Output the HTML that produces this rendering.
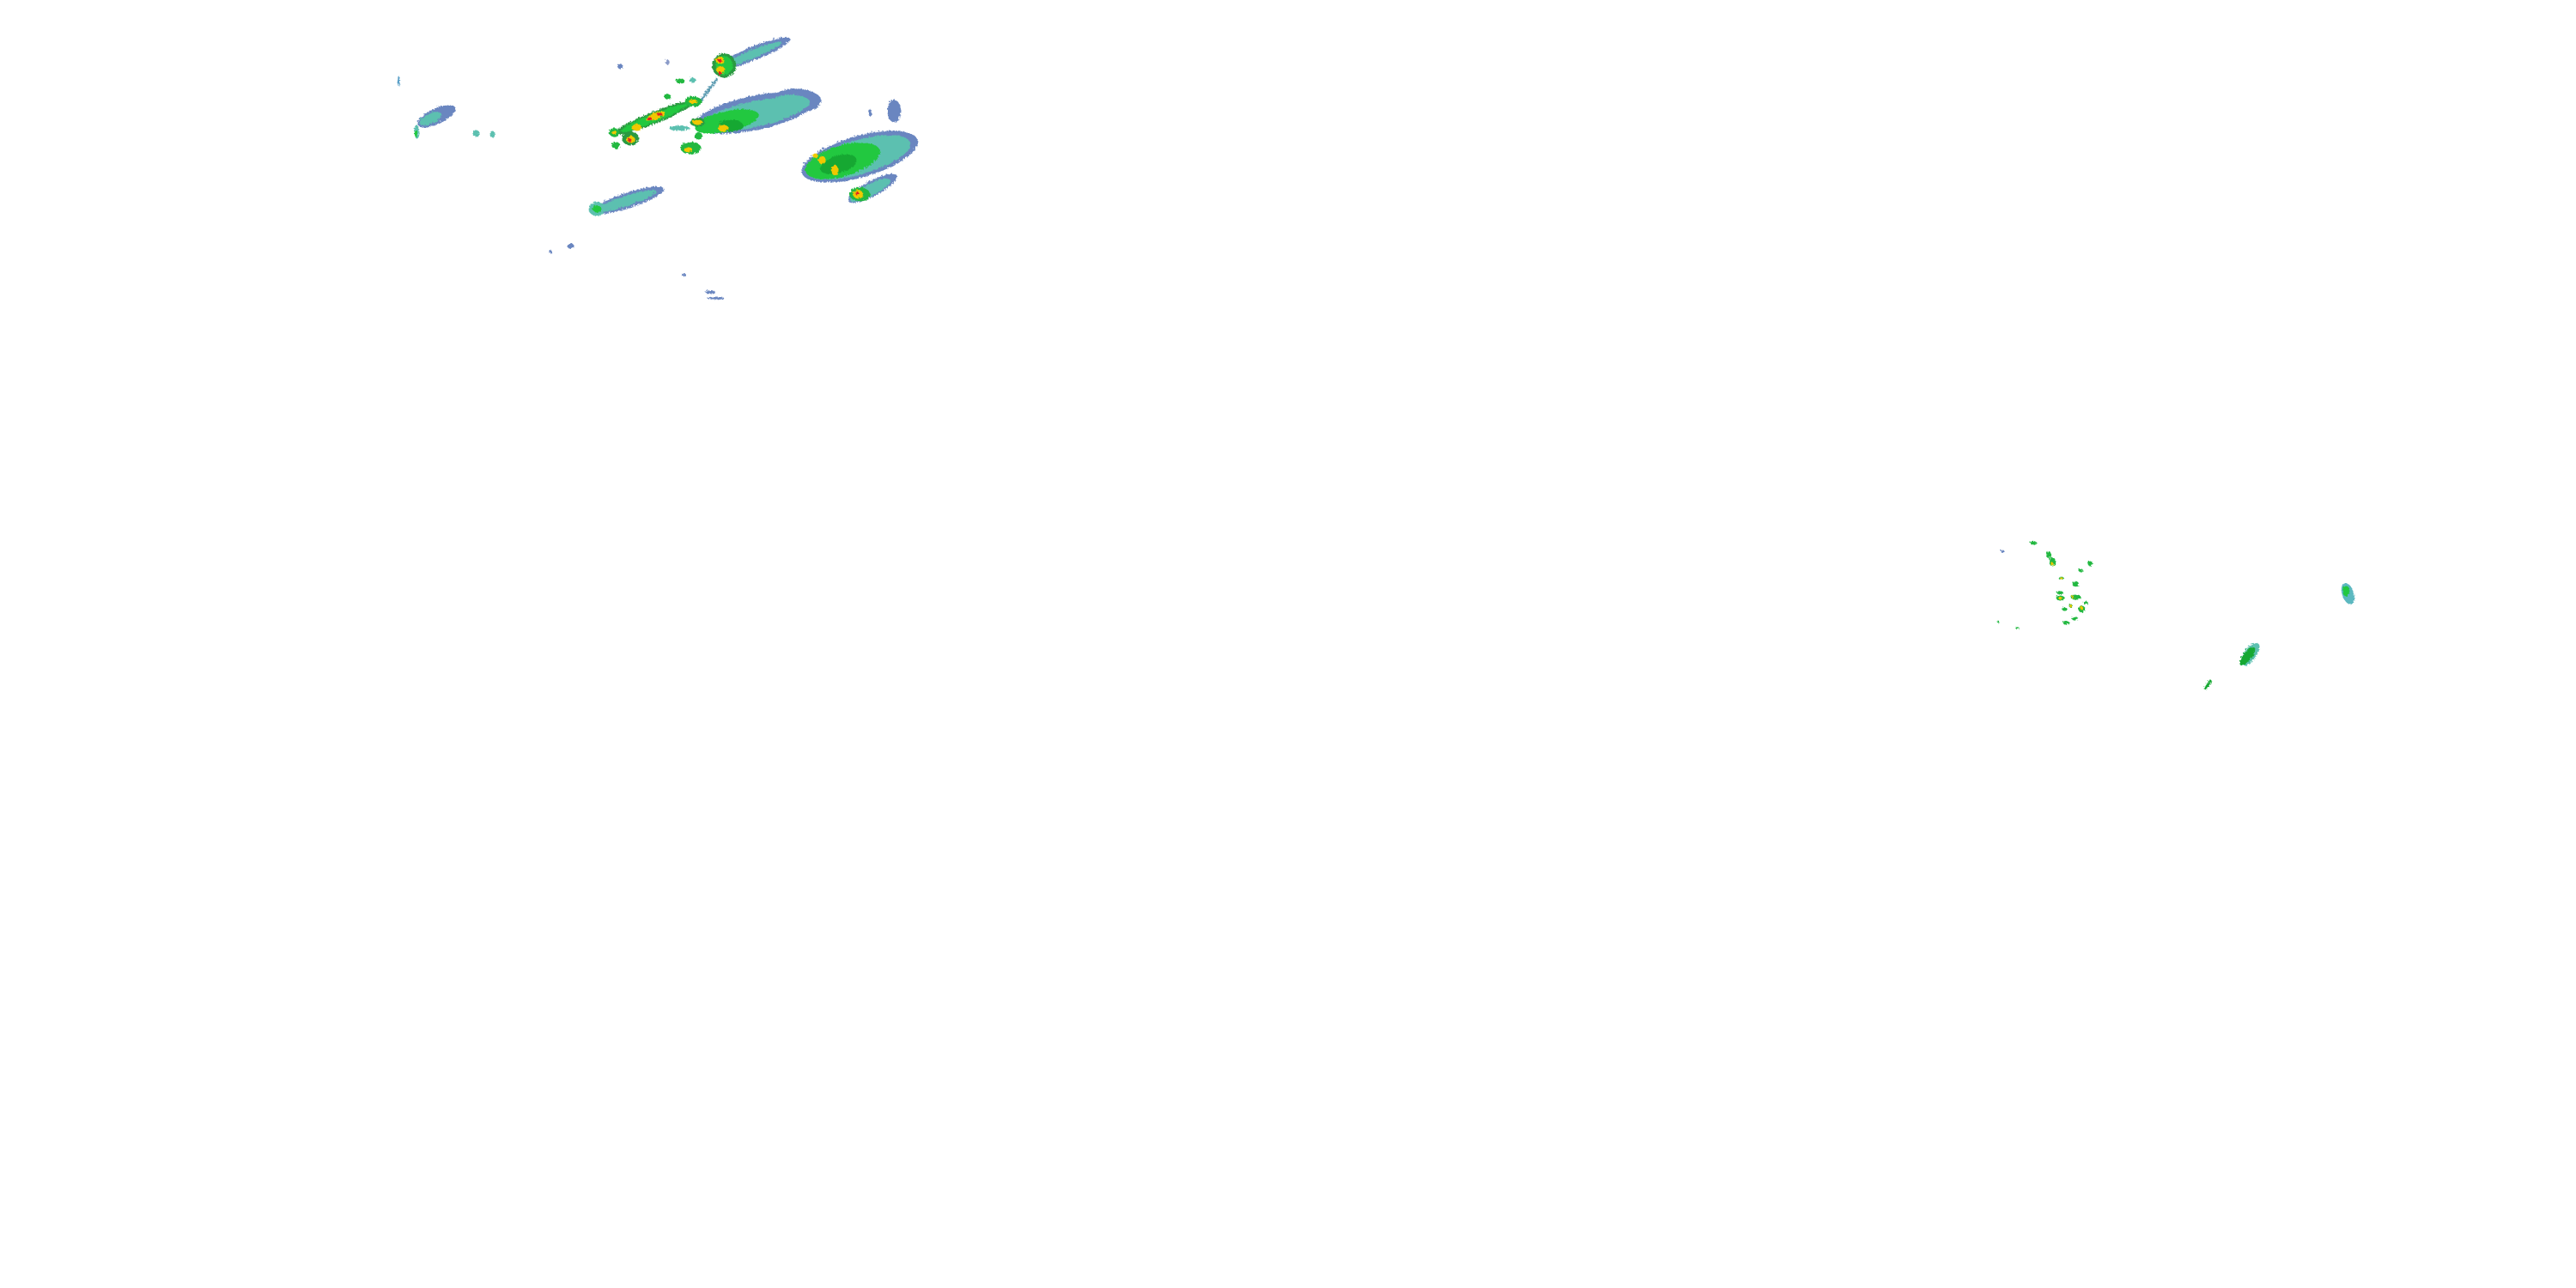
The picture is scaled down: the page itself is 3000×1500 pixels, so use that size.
<!DOCTYPE html>
<html><head><meta charset="utf-8"><style>html,body{margin:0;padding:0;background:#fff}svg{display:block}</style></head>
<body>
<svg width="3000" height="1500" viewBox="0 0 3000 1500" xmlns="http://www.w3.org/2000/svg">
<defs><filter id="r" x="-10%" y="-10%" width="120%" height="120%"><feTurbulence baseFrequency="0.35" numOctaves="1" seed="3"/><feDisplacementMap in="SourceGraphic" scale="4"/></filter></defs>
<g filter="url(#r)">
<!-- NE band -->
<ellipse cx="876" cy="61" rx="46" ry="8" transform="rotate(-22 876 61)" fill="#6a86c0"/>
<ellipse cx="872" cy="63" rx="40" ry="5" transform="rotate(-22 872 63)" fill="#5cc0b0"/>
<ellipse cx="842" cy="75" rx="14" ry="14" fill="#2a9a40"/>
<ellipse cx="842" cy="75" rx="10" ry="11" fill="#20c840"/>
<ellipse cx="837" cy="69" rx="5" ry="4" fill="#f0c800"/>
<ellipse cx="837" cy="69" rx="2.5" ry="2" fill="#e02020"/>
<ellipse cx="838" cy="80" rx="5" ry="4" fill="#f0c800"/>
<ellipse cx="837" cy="84" rx="2" ry="2" fill="#e02020"/>
<line x1="834" y1="90" x2="815" y2="116" stroke="#5a9ab0" stroke-width="3"/>
<!-- line of cells -->
<ellipse cx="760" cy="136" rx="50" ry="7" transform="rotate(-22 760 136)" fill="#2a9a40"/>
<ellipse cx="760" cy="136" rx="42" ry="5" transform="rotate(-22 760 136)" fill="#20c840"/>
<ellipse cx="762" cy="134" rx="12" ry="4" transform="rotate(-22 762 134)" fill="#f0c800"/>
<ellipse cx="767" cy="132" rx="3" ry="2" fill="#e02020"/>
<ellipse cx="755" cy="137" rx="3" ry="2" fill="#e02020"/>
<ellipse cx="740" cy="147" rx="6" ry="4" fill="#f0c800"/>
<ellipse cx="806" cy="117" rx="10" ry="6" fill="#20b840"/>
<ellipse cx="806" cy="117" rx="5" ry="2.5" fill="#f0c800"/>
<ellipse cx="733" cy="160" rx="10" ry="8" fill="#2a9a40"/>
<ellipse cx="733" cy="161" rx="5" ry="4" fill="#f0c800"/>
<ellipse cx="732" cy="162" rx="2" ry="2" fill="#e02020"/>
<ellipse cx="714" cy="153" rx="6" ry="5" fill="#20b840"/>
<ellipse cx="714" cy="153" rx="3" ry="2" fill="#f0c800"/>
<ellipse cx="716" cy="168" rx="5" ry="4" fill="#20b840"/>
<ellipse cx="791" cy="93" rx="5" ry="3" fill="#20b840"/>
<ellipse cx="805" cy="92" rx="4" ry="3" fill="#5cc0b0"/>
<ellipse cx="776" cy="111" rx="4" ry="3" fill="#20b840"/>
<ellipse cx="721" cy="76" rx="3" ry="3" fill="#6a86c0"/>
<ellipse cx="776" cy="71" rx="2" ry="3" fill="#8a9ac8"/>
<!-- mid big blob -->
<ellipse cx="878" cy="130" rx="72" ry="20" transform="rotate(-12 878 130)" fill="#6a86c0"/>
<ellipse cx="925" cy="116" rx="30" ry="14" fill="#6a86c0"/>
<ellipse cx="876" cy="132" rx="64" ry="15" transform="rotate(-12 876 132)" fill="#5cc0b0"/>
<ellipse cx="920" cy="118" rx="22" ry="9" fill="#5cc0b0"/>
<ellipse cx="845" cy="140" rx="38" ry="12" transform="rotate(-12 845 140)" fill="#20c840"/>
<ellipse cx="850" cy="145" rx="14" ry="7" fill="#14a830"/>
<ellipse cx="811" cy="141" rx="9" ry="5" fill="#2a9a40"/>
<ellipse cx="811" cy="141" rx="6" ry="3" fill="#f0c800"/>
<ellipse cx="841" cy="148" rx="6" ry="4" fill="#f0c800"/>
<ellipse cx="790" cy="148" rx="12" ry="3" fill="#5cc0b0"/>
<ellipse cx="803" cy="171" rx="12" ry="7" fill="#20b840"/>
<ellipse cx="800" cy="173" rx="5" ry="3" fill="#f0c800"/>
<ellipse cx="812" cy="157" rx="5" ry="4" fill="#20b840"/>
<!-- right big blob -->
<ellipse cx="1000" cy="181" rx="70" ry="24" transform="rotate(-16 1000 181)" fill="#6a86c0"/>
<ellipse cx="998" cy="182" rx="63" ry="20" transform="rotate(-16 998 182)" fill="#5cc0b0"/>
<ellipse cx="980" cy="186" rx="45" ry="18" transform="rotate(-16 980 186)" fill="#20c840"/>
<ellipse cx="975" cy="190" rx="22" ry="10" transform="rotate(-16 975 190)" fill="#14a830"/>
<ellipse cx="956" cy="185" rx="4" ry="5" fill="#f0c800"/>
<ellipse cx="971" cy="197" rx="4" ry="6" fill="#f0c800"/>
<ellipse cx="948" cy="180" rx="3" ry="3" fill="#f0c800"/>
<ellipse cx="1040" cy="128" rx="8" ry="13" fill="#6a86c0"/>
<ellipse cx="1012" cy="130" rx="2" ry="4" fill="#6a86c0"/>
<!-- small blob below right -->
<ellipse cx="1015" cy="218" rx="32" ry="9" transform="rotate(-28 1015 218)" fill="#6a86c0"/>
<ellipse cx="1012" cy="220" rx="26" ry="7" transform="rotate(-28 1012 220)" fill="#5cc0b0"/>
<ellipse cx="1000" cy="225" rx="12" ry="8" fill="#20b840"/>
<ellipse cx="998" cy="225" rx="6" ry="5" fill="#f0c800"/>
<ellipse cx="997" cy="224" rx="2" ry="2" fill="#e02020"/>
<!-- left blob -->
<ellipse cx="507" cy="134" rx="24" ry="9" transform="rotate(-25 507 134)" fill="#6a86c0"/>
<ellipse cx="500" cy="137" rx="14" ry="6" transform="rotate(-25 500 137)" fill="#5cc0b0"/>
<ellipse cx="484" cy="152" rx="3" ry="8" fill="#5cc0b0"/>
<ellipse cx="483" cy="154" rx="2" ry="4" fill="#20c840"/>
<ellipse cx="553" cy="154" rx="4" ry="4" fill="#5cc0b0"/>
<ellipse cx="572" cy="155" rx="3" ry="4" fill="#5cc0b0"/>
<ellipse cx="463" cy="93" rx="1.5" ry="6" fill="#5aa0c8"/>
<!-- lower band -->
<ellipse cx="730" cy="232" rx="44" ry="9" transform="rotate(-18 730 232)" fill="#6a86c0"/>
<ellipse cx="727" cy="233" rx="38" ry="6" transform="rotate(-18 727 233)" fill="#5cc0b0"/>
<ellipse cx="694" cy="242" rx="10" ry="8" fill="#5cc0b0"/>
<ellipse cx="694" cy="242" rx="5" ry="4" fill="#20c840"/>
<ellipse cx="663" cy="285" rx="4" ry="3" fill="#6a86c0"/>
<ellipse cx="826" cy="339" rx="6" ry="2" fill="#6a86c0"/>
<ellipse cx="832" cy="346" rx="10" ry="1.5" fill="#6a86c0"/>
<ellipse cx="795" cy="319" rx="3" ry="1.5" fill="#6a86c0"/>
<ellipse cx="640" cy="292" rx="2" ry="2" fill="#6a86c0"/>
<!-- right cluster -->
<g fill="#20b840">
<ellipse cx="2367" cy="631" rx="4" ry="2"/>
<ellipse cx="2385" cy="645" rx="3" ry="4"/>
<ellipse cx="2389" cy="653" rx="4" ry="5"/>
<ellipse cx="2433" cy="655" rx="3" ry="3"/>
<ellipse cx="2422" cy="663" rx="3" ry="2"/>
<ellipse cx="2399" cy="672" rx="3" ry="2"/>
<ellipse cx="2416" cy="679" rx="4" ry="3"/>
<ellipse cx="2398" cy="689" rx="4" ry="2"/>
<ellipse cx="2398" cy="695" rx="5" ry="3"/>
<ellipse cx="2416" cy="694" rx="6" ry="3"/>
<ellipse cx="2428" cy="701" rx="3" ry="2"/>
<ellipse cx="2410" cy="704" rx="2" ry="2"/>
<ellipse cx="2403" cy="708" rx="3" ry="2"/>
<ellipse cx="2423" cy="708" rx="4" ry="4"/>
<ellipse cx="2415" cy="719" rx="4" ry="2"/>
<ellipse cx="2405" cy="724" rx="4" ry="2"/>
<ellipse cx="2348" cy="730" rx="2" ry="1.5"/>
<ellipse cx="2326" cy="723" rx="1" ry="1.5"/>
</g>
<g fill="#f0c800">
<ellipse cx="2389" cy="656" rx="2" ry="1.5"/>
<ellipse cx="2399" cy="672" rx="1.5" ry="1.5"/>
<ellipse cx="2398" cy="695" rx="2.5" ry="1.5"/>
<ellipse cx="2413" cy="694" rx="2" ry="1.5"/>
<ellipse cx="2410" cy="704" rx="1.5" ry="1.5"/>
<ellipse cx="2423" cy="707" rx="2" ry="1.5"/>
</g>
<ellipse cx="2331" cy="641" rx="2" ry="1.5" fill="#6a86c0"/>
<ellipse cx="2733" cy="690" rx="7" ry="13" transform="rotate(-20 2733 690)" fill="#5cb8c0"/>
<ellipse cx="2731" cy="687" rx="4" ry="6" fill="#20c840"/>
<ellipse cx="2619" cy="761" rx="7" ry="16" transform="rotate(38 2619 761)" fill="#5cc0b0"/>
<ellipse cx="2616" cy="763" rx="5" ry="13" transform="rotate(38 2616 763)" fill="#14a830"/>
<ellipse cx="2570" cy="796" rx="2" ry="7" transform="rotate(35 2570 796)" fill="#14a830"/>
</g>
</svg>
</body></html>
